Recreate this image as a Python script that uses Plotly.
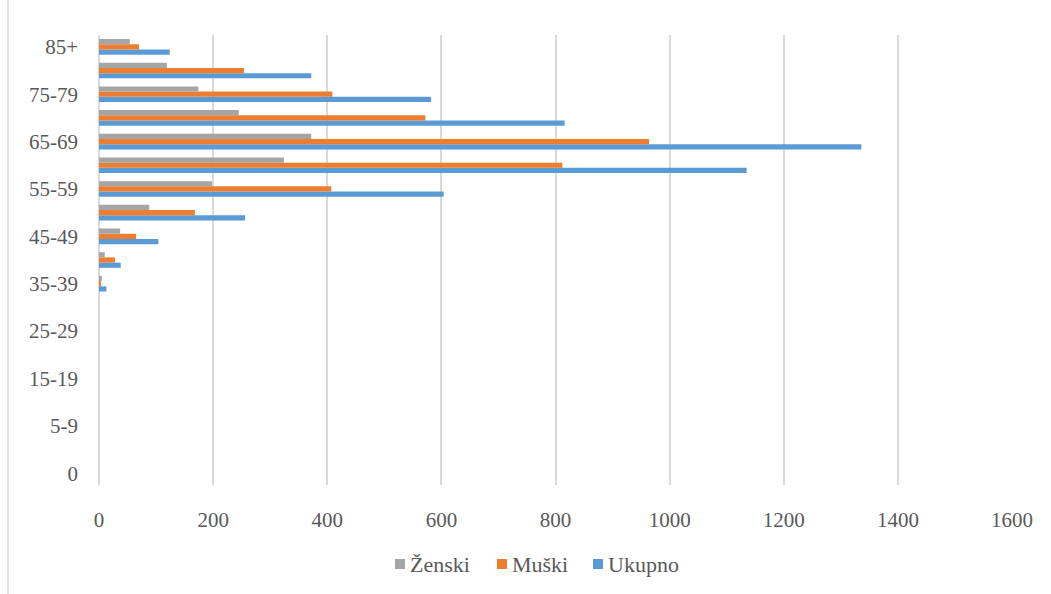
import plotly.graph_objects as go

# Age groups, bottom to top
age_groups = ["0", "1-4", "5-9", "10-14", "15-19", "20-24", "25-29", "30-34",
              "35-39", "40-44", "45-49", "50-54", "55-59", "60-64", "65-69",
              "70-74", "75-79", "80-84", "85+"]
zenski = [0, 0, 0, 0, 0, 0, 0, 0, 5, 10, 37, 88, 198, 324, 372, 245, 174, 119, 54]
muski = [0, 0, 0, 0, 0, 0, 0, 0, 2, 28, 65, 168, 407, 812, 964, 572, 409, 254, 70]
ukupno = [0, 0, 0, 0, 0, 0, 0, 0, 13, 38, 104, 256, 604, 1135, 1336, 816, 582, 372, 124]

shown_ticks = ["0", "5-9", "15-19", "25-29", "35-39", "45-49", "55-59", "65-69", "75-79", "85+"]
x_ticks = [0, 200, 400, 600, 800, 1000, 1200, 1400, 1600]

series_names = ["Ženski", "Muški", "Ukupno"]
series_colors = ["#A5A5A5", "#ED7D31", "#5B9BD5"]

FONT = "Liberation Serif"
TEXT = "#595959"
GRID = "#D9D9D9"
FS = 21

W, H = 1051, 594
M_L, M_R, M_T, M_B = 99, 39, 35, 109
plot_w = W - M_L - M_R
plot_h = H - M_T - M_B


def px_x(px):
    return (px - M_L) / plot_w


def px_y(py):
    return (H - M_B - py) / plot_h


fig = go.Figure()
# Added bottom-to-top within each group
for name, vals, col in zip(series_names[::-1], [ukupno, muski, zenski], series_colors[::-1]):
    fig.add_trace(go.Bar(y=age_groups, x=vals, name=name, orientation="h",
                         marker=dict(color=col, line=dict(width=0)),
                         showlegend=False))

# Legend row: coloured square key followed by the series name
legend_key_px = [395, 497, 593]
legend_y = 564
annotations = []
shapes = []
for name, col, kx in zip(series_names, series_colors, legend_key_px):
    shapes.append(dict(type="rect", xref="paper", yref="paper",
                       x0=px_x(kx), x1=px_x(kx + 10),
                       y0=px_y(legend_y + 5), y1=px_y(legend_y - 5),
                       fillcolor=col, line=dict(width=0)))
    annotations.append(dict(
        xref="paper", yref="paper", x=px_x(kx + 13), y=px_y(legend_y),
        xanchor="left", yanchor="middle", showarrow=False,
        text=name, font=dict(family=FONT, size=22, color=TEXT)))

# Left edge of the chart frame
shapes.append(dict(type="line", xref="paper", yref="paper",
                   x0=px_x(8), x1=px_x(8), y0=px_y(H), y1=px_y(0),
                   line=dict(color=GRID, width=1.5)))

fig.update_layout(
    width=W, height=H,
    margin=dict(l=M_L, r=M_R, t=M_T, b=M_B),
    paper_bgcolor="white", plot_bgcolor="white",
    barmode="group", bargap=0.34, bargroupgap=0,
    font=dict(family=FONT, size=FS, color=TEXT),
    showlegend=False,
    annotations=annotations,
    shapes=shapes,
    xaxis=dict(range=[0, 1600], tickvals=x_ticks, showgrid=True,
               gridcolor=GRID, gridwidth=2, zeroline=True, zerolinecolor=GRID,
               zerolinewidth=2, showline=False, ticks="", ticklabelstandoff=20,
               tickfont=dict(family=FONT, size=FS, color=TEXT)),
    yaxis=dict(type="category", categoryorder="array", categoryarray=age_groups,
               tickvals=shown_ticks, showgrid=False, zeroline=False,
               showline=False, ticks="", ticklabelstandoff=20,
               tickfont=dict(family=FONT, size=FS, color=TEXT)),
)

fig.write_html("out.html")
